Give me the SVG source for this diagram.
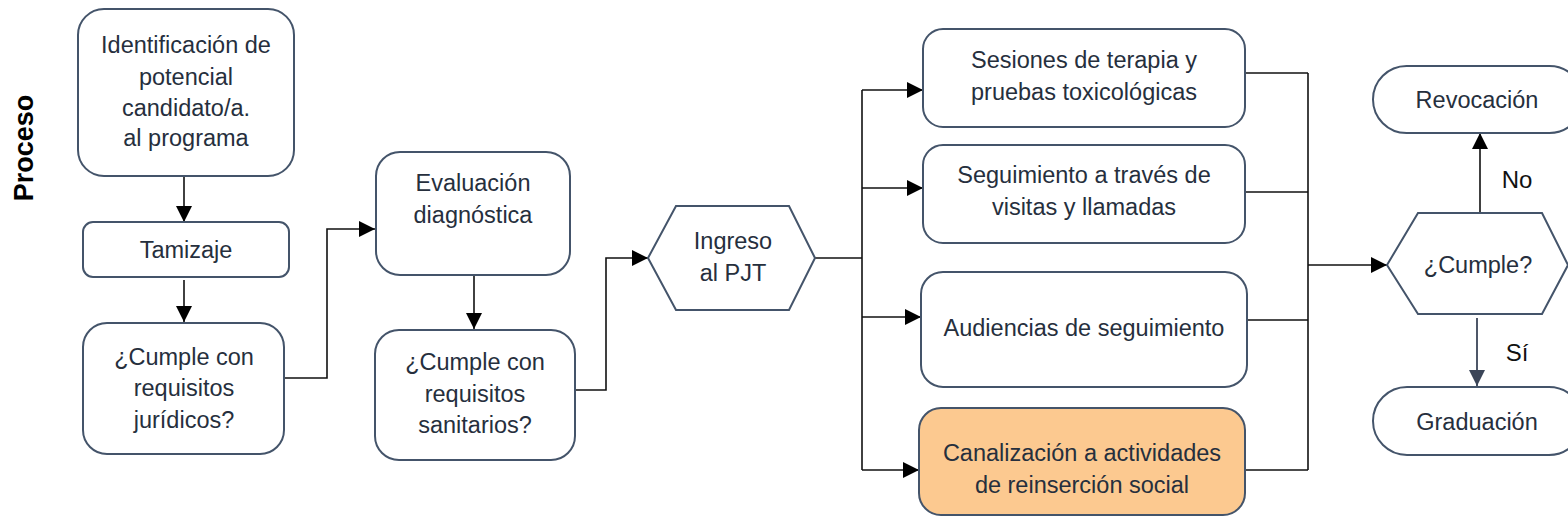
<svg xmlns="http://www.w3.org/2000/svg" width="1568" height="530" viewBox="0 0 1568 530">
<style>
.box{fill:#fff;stroke:#44546a;stroke-width:2}
.hl{fill:#fcc990;stroke:#44546a;stroke-width:2}
.t{font-family:"Liberation Sans",Arial,sans-serif;font-size:23.5px;fill:#262f3d;text-anchor:middle}
.c{fill:none;stroke:#111;stroke-width:1.6}
.cs{fill:none;stroke:#3b4558;stroke-width:1.8}
.lbl{font-family:"Liberation Sans",Arial,sans-serif;font-size:24px;fill:#111;text-anchor:middle}
</style>
<defs>
<marker id="ah" viewBox="0 0 15 15" refX="15" refY="7.5" markerWidth="16" markerHeight="16" markerUnits="userSpaceOnUse" orient="auto">
<path d="M0,0 L15,7.5 L0,15 z" fill="#000"/>
</marker>
<marker id="ahs" viewBox="0 0 15 15" refX="15" refY="7.5" markerWidth="16" markerHeight="16" markerUnits="userSpaceOnUse" orient="auto">
<path d="M0,0 L15,7.5 L0,15 z" fill="#3b4558"/>
</marker>
</defs>
<rect width="1568" height="530" fill="#fff"/>
<text x="33" y="148" transform="rotate(-90 33 148)" font-family="Liberation Sans,Arial,sans-serif" font-size="27" font-weight="bold" fill="#000" text-anchor="middle">Proceso</text>

<g id="connectors">
<path class="c" d="M184,177 V222" marker-end="url(#ah)"/>
<path class="c" d="M184,280 V322" marker-end="url(#ah)"/>
<path class="c" d="M284,378 H327 V229 H375" marker-end="url(#ah)"/>
<path class="c" d="M474,275 V329" marker-end="url(#ah)"/>
<path class="c" d="M575,390 H606 V258 H648" marker-end="url(#ah)"/>
<path class="c" d="M815,258 H862"/>
<path class="c" d="M862,90 V470"/>
<path class="c" d="M862,90 H923" marker-end="url(#ah)"/>
<path class="c" d="M862,188 H923" marker-end="url(#ah)"/>
<path class="c" d="M862,317 H921" marker-end="url(#ah)"/>
<path class="c" d="M862,470 H919" marker-end="url(#ah)"/>
<path class="c" d="M1245,73 H1308"/>
<path class="c" d="M1245,192 H1308"/>
<path class="c" d="M1247,320 H1308"/>
<path class="c" d="M1245,470 H1308"/>
<path class="c" d="M1308,73 V470"/>
<path class="c" d="M1308,265 H1387" marker-end="url(#ah)"/>
<path class="c" d="M1480,213 V133" marker-end="url(#ah)"/>
<path class="cs" d="M1477,318 V386" marker-end="url(#ahs)"/>
<text class="lbl" x="1517" y="188">No</text>
<text class="lbl" x="1517" y="361">Sí</text>
</g>

<g id="n-identificacion">
<rect class="box" x="78" y="9" width="216" height="167" rx="26"/>
<text class="t" x="186" y="53">Identificación de</text>
<text class="t" x="186" y="85">potencial</text>
<text class="t" x="186" y="116">candidato/a.</text>
<text class="t" x="186" y="146">al programa</text>
</g>
<g id="n-tamizaje">
<rect class="box" x="83" y="222" width="206" height="55" rx="10"/>
<text class="t" x="186" y="258">Tamizaje</text>
</g>
<g id="n-juridicos">
<rect class="box" x="83" y="323" width="201" height="131" rx="24"/>
<text class="t" x="184" y="365">¿Cumple con</text>
<text class="t" x="184" y="396">requisitos</text>
<text class="t" x="184" y="428">jurídicos?</text>
</g>
<g id="n-evaluacion">
<rect class="box" x="376" y="152" width="194" height="123" rx="24"/>
<text class="t" x="473" y="191">Evaluación</text>
<text class="t" x="473" y="223">diagnóstica</text>
</g>
<g id="n-sanitarios">
<rect class="box" x="375" y="330" width="200" height="130" rx="24"/>
<text class="t" x="475" y="370">¿Cumple con</text>
<text class="t" x="475" y="402">requisitos</text>
<text class="t" x="475" y="433">sanitarios?</text>
</g>
<g id="n-ingreso">
<polygon class="box" points="648,258 676,206 789,206 815,258 789,310 676,310"/>
<text class="t" x="733" y="249">Ingreso</text>
<text class="t" x="733" y="281">al PJT</text>
</g>
<g id="n-sesiones">
<rect class="box" x="923" y="29" width="322" height="98" rx="20"/>
<text class="t" x="1084" y="68">Sesiones de terapia y</text>
<text class="t" x="1084" y="100">pruebas toxicológicas</text>
</g>
<g id="n-seguimiento">
<rect class="box" x="923" y="145" width="322" height="98" rx="20"/>
<text class="t" x="1084" y="183">Seguimiento a través de</text>
<text class="t" x="1084" y="215">visitas y llamadas</text>
</g>
<g id="n-audiencias">
<rect class="box" x="921" y="272" width="326" height="115" rx="22"/>
<text class="t" x="1084" y="336">Audiencias de seguimiento</text>
</g>
<g id="n-canalizacion">
<rect class="hl" x="919" y="408" width="326" height="107" rx="22"/>
<text class="t" x="1082" y="461">Canalización a actividades</text>
<text class="t" x="1082" y="493">de reinserción social</text>
</g>
<g id="n-cumple">
<polygon class="box" points="1387,265 1418,213 1542,213 1568,265 1542,314 1418,314"/>
<text class="t" x="1478" y="273">¿Cumple?</text>
</g>
<g id="n-revocacion">
<rect class="box" x="1373" y="66" width="210" height="67" rx="33.5"/>
<text class="t" x="1477" y="108">Revocación</text>
</g>
<g id="n-graduacion">
<rect class="box" x="1373" y="387" width="210" height="68" rx="34"/>
<text class="t" x="1477" y="430">Graduación</text>
</g>
</svg>
